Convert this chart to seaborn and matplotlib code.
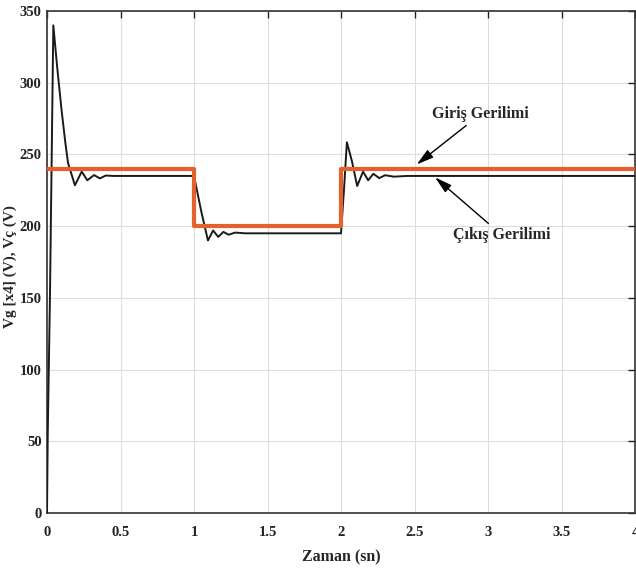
import matplotlib
matplotlib.use("Agg")
import matplotlib.pyplot as plt
import seaborn as sns
import pandas as pd

# Output voltage (black) key points
t_out = [0.0, 0.005, 0.02, 0.043, 0.07, 0.10, 0.125, 0.143, 0.19, 0.236, 0.274, 0.32, 0.36, 0.40, 0.45,
         1.0, 1.05, 1.095, 1.13, 1.165, 1.20, 1.235, 1.28, 1.35,
         2.0, 2.02, 2.04, 2.075, 2.11, 2.15, 2.185, 2.22, 2.26, 2.30, 2.36, 2.45, 4.0]
v_out = [0, 55, 150, 340, 310, 280, 258, 244, 228.5, 238, 232, 235.6, 233.3, 235.3, 235,
         235, 210, 190, 197, 192.5, 196, 194, 195.5, 195,
         195, 225, 258.5, 245, 228, 238, 232, 236.5, 233.5, 235.5, 234.5, 235, 235]

# Input voltage (orange, x4) steps
t_in = [0.0, 1.0, 2.0, 4.0]
v_in = [240, 200, 240, 240]

x_ticks = [0, 0.5, 1, 1.5, 2, 2.5, 3, 3.5, 4]
x_tick_labels = ["0", "0.5", "1", "1.5", "2", "2.5", "3", "3.5", "4"]
y_ticks = [0, 50, 100, 150, 200, 250, 300, 350]

sns.set_style("white")
plt.rcParams["font.family"] = ["Liberation Serif", "DejaVu Serif"]
plt.rcParams["font.weight"] = "bold"

fig = plt.figure(figsize=(6.36, 5.74), dpi=100)
ax = fig.add_axes([47 / 636, 1 - 513 / 574, 588 / 636, 502 / 574])

df_out = pd.DataFrame({"t": t_out, "v": v_out})
df_in = pd.DataFrame({"t": t_in, "v": v_in})

sns.lineplot(data=df_out, x="t", y="v", ax=ax, color="#1a1a1a", linewidth=1.4,
             estimator=None, sort=False, zorder=3)
sns.lineplot(data=df_in, x="t", y="v", ax=ax, color="#E4612B", linewidth=3.0,
             estimator=None, sort=False, drawstyle="steps-post", zorder=4)

ax.set_xlim(0, 4)
ax.set_ylim(0, 350)
ax.set_xticks(x_ticks)
ax.set_xticklabels(x_tick_labels)
ax.set_yticks(y_ticks)
ax.grid(True, color="#DDDDDD", linewidth=0.8)
ax.tick_params(direction="in", top=True, right=True, length=5, width=1,
               labelsize=10.5, colors="#222222")
ax.tick_params(axis="x", pad=9)
ax.tick_params(axis="y", pad=4)
for lbl in ax.get_xticklabels() + ax.get_yticklabels():
    lbl.set_fontweight("bold")
for s in ax.spines.values():
    s.set_visible(True)
    s.set_color("#333333")
    s.set_linewidth(1.2)

ax.set_xlabel("Zaman (sn)", fontsize=11.5, fontweight="bold", labelpad=8)
ax.set_ylabel("Vg [x4] (V), Vç (V)", fontsize=11, fontweight="bold")
ax.yaxis.set_label_coords(-0.051, 0.49)

arrow = dict(arrowstyle="-|>,head_length=0.9,head_width=0.25", color="black",
             linewidth=1.0, shrinkA=0, shrinkB=0)
ax.annotate("Giriş Gerilimi", xy=(2.515, 243), xytext=(2.62, 278),
            fontsize=11.5, fontweight="bold", ha="left", va="center",
            arrowprops=arrow)
ax.annotate("Çıkış Gerilimi", xy=(2.64, 234), xytext=(2.76, 194),
            fontsize=11.5, fontweight="bold", ha="left", va="center",
            arrowprops=arrow)

fig.savefig("out.png", dpi=100)
